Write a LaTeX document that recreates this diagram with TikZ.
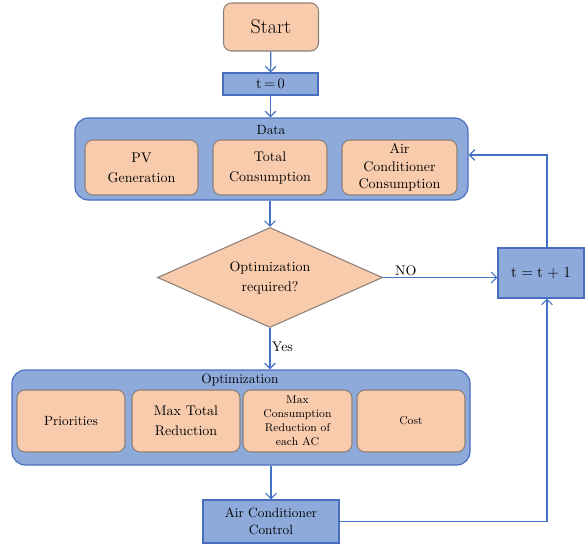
\documentclass[tikz,border=0pt]{standalone}
\usetikzlibrary{shapes.geometric,arrows.meta}
\newcommand{\tnr}{\rmfamily}
\definecolor{peach}{HTML}{F8CBAD}
\definecolor{peachline}{HTML}{8C7F78}
\definecolor{bluefill}{HTML}{8EAADB}
\definecolor{blueline}{HTML}{4A6EBF}
\definecolor{conn}{HTML}{4472C4}
\tikzset{
  peachbox/.style={draw=peachline, fill=peach, line width=0.8pt, rounded corners=6pt, align=center, inner sep=1pt, font=\tnr\fontsize{10}{13}\selectfont},
  bluebox/.style={draw=blueline, fill=bluefill, line width=0.8pt, align=center, inner sep=1pt, font=\tnr\fontsize{10}{13}\selectfont},
  container/.style={draw=blueline, fill=bluefill, line width=0.9pt, rounded corners=10pt},
  titletext/.style={font=\tnr\fontsize{10}{13}\selectfont},
  arr/.style={draw=conn, line width=0.9pt, -{Straight Barb[length=4pt,width=8pt]}},
  lbl/.style={font=\tnr\fontsize{10.5}{13}\selectfont, inner sep=1pt}
}
\begin{document}
\begin{tikzpicture}[x=0.75pt,y=-0.75pt]
\useasboundingbox (0,0) rectangle (587,546);
% nodes
\node[peachbox, minimum width=71.25pt, minimum height=36pt, font=\tnr\fontsize{15}{18}\selectfont] (start) at (271,27) {Start};
\node[bluebox, minimum width=71.25pt, minimum height=16.5pt, font=\tnr\fontsize{11}{13}\selectfont] (t0) at (270.5,84) {t\,=\,0};
\node[container, minimum width=294.75pt, minimum height=61.5pt] (data) at (271.5,159) {};
\node[titletext] (datat) at (271,130) {Data};
\node[peachbox, minimum width=84.75pt, minimum height=41.25pt, font=\tnr\fontsize{10.5}{15}\selectfont] (pv) at (141.5,167.5) {PV\\Generation};
\node[peachbox, minimum width=85.5pt, minimum height=41.25pt, font=\tnr\fontsize{10.5}{15}\selectfont] (tc) at (270,167.5) {Total\\Consumption};
\node[peachbox, minimum width=86.25pt, minimum height=41.25pt, font=\tnr\fontsize{10.5}{13}\selectfont] (acc) at (399.5,167.5) {Air\\Conditioner\\Consumption};
\node[diamond, aspect=2.25, draw=peachline, fill=peach, line width=0.8pt, minimum width=168.75pt, minimum height=75pt, inner sep=0pt, align=center, font=\tnr\fontsize{10.5}{15}\selectfont] (dec) at (270,277.5) {Optimization\\required?};
\node[bluebox, minimum width=64.5pt, minimum height=37.5pt, font=\tnr\fontsize{11.5}{13}\selectfont] (tt) at (541,273) {t\;=\;t\;+\;1};
\node[container, minimum width=343.5pt, minimum height=71.25pt] (opt) at (241,417.5) {};
\node[titletext] (optt) at (240,380) {Optimization};
\node[peachbox, minimum width=81pt, minimum height=46.5pt] (pri) at (71,421) {Priorities};
\node[peachbox, minimum width=81pt, minimum height=46.5pt, font=\tnr\fontsize{10.5}{15}\selectfont] (mtr) at (186,421) {Max Total\\Reduction};
\node[peachbox, minimum width=81.75pt, minimum height=46.5pt, font=\tnr\fontsize{8.5}{10.5}\selectfont] (mcr) at (297.5,421) {Max\\Consumption\\Reduction of\\each AC};
\node[peachbox, minimum width=81pt, minimum height=46.5pt, font=\tnr\fontsize{8.5}{11}\selectfont] (cost) at (411,421) {Cost};
\node[bluebox, minimum width=102pt, minimum height=32.25pt] (ctrl) at (271,521.5) {Air Conditioner\\Control};
% connectors
\coordinate (ttn) at ([xshift=4.5pt]tt.north);
\coordinate (tts) at ([xshift=4.5pt]tt.south);
\draw[arr] (start) -- (t0);
\draw[arr] (t0.south) -- (t0.south |- data.north);
\draw[arr] (data.south -| dec.north) -- (dec.north);
\draw[arr] (dec.east) -- node[lbl, above, pos=0.2] (no) {NO} (dec.east -| tt.west);
\draw[arr] (dec.south) -- node[lbl, right, pos=0.45] (yes) {Yes} (dec.south |- opt.north);
\draw[arr] (opt.south -| ctrl.north) -- (ctrl.north);
\draw[arr] (ttn) |- ([yshift=3pt]data.east);
\draw[arr] (ctrl.east) -| (tts);
\end{tikzpicture}
\end{document}
